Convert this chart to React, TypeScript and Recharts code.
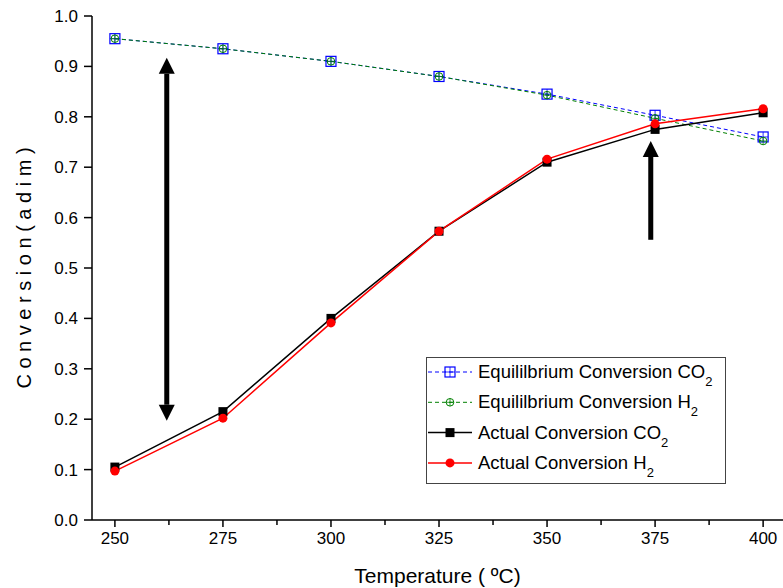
import React from "react";
import {
  LineChart,
  Line,
  XAxis,
  YAxis,
  Legend,
  ReferenceLine,
} from "recharts";

const temperatures = [250, 275, 300, 325, 350, 375, 400];
const eqCO2 = [0.955, 0.935, 0.91, 0.88, 0.845, 0.803, 0.76];
const eqH2 = [0.955, 0.935, 0.91, 0.88, 0.843, 0.797, 0.752];
const actCO2 = [0.105, 0.215, 0.4, 0.573, 0.71, 0.775, 0.808];
const actH2 = [0.097, 0.202, 0.391, 0.573, 0.716, 0.786, 0.816];

const xTicks = [250, 262.5, 275, 287.5, 300, 312.5, 325, 337.5, 350, 362.5, 375, 387.5, 400];
const yTicks = [0, 0.1, 0.2, 0.3, 0.4, 0.5, 0.6, 0.7, 0.8, 0.9, 1.0];

const data = temperatures.map((t, i) => ({
  t,
  eqCO2: eqCO2[i],
  eqH2: eqH2[i],
  actCO2: actCO2[i],
  actH2: actH2[i],
}));

const FONT = "'Liberation Sans', Arial, sans-serif";

const BlueBox = ({ cx, cy }: any) => (
  <g>
    <rect x={cx - 5} y={cy - 5} width={10} height={10} fill="none" stroke="#0000ff" strokeWidth={1.2} />
    <line x1={cx} x2={cx} y1={cy - 5} y2={cy + 5} stroke="#0000ff" strokeWidth={0.8} />
    <line x1={cx - 5} x2={cx + 5} y1={cy} y2={cy} stroke="#0000ff" strokeWidth={0.8} />
  </g>
);

const GreenCircle = ({ cx, cy }: any) => (
  <g>
    <circle cx={cx} cy={cy} r={3.8} fill="none" stroke="#008000" strokeWidth={1} />
    <line x1={cx} x2={cx} y1={cy - 3.8} y2={cy + 3.8} stroke="#008000" strokeWidth={0.8} />
    <line x1={cx - 3.8} x2={cx + 3.8} y1={cy} y2={cy} stroke="#008000" strokeWidth={0.8} />
  </g>
);

const BlackSquare = ({ cx, cy }: any) => (
  <rect x={cx - 4.5} y={cy - 4.5} width={9} height={9} fill="#000" />
);

const RedDot = ({ cx, cy }: any) => <circle cx={cx} cy={cy} r={4.5} fill="#ff0000" />;

// arrow drawn between the two segment ends; tip at end (and start if double)
const arrowShape = (double: boolean) => (p: any) => {
  const { x1, y1, x2, y2 } = p;
  const head = 16;
  const half = 8;
  const shaft = 2.5;
  const dir = y2 < y1 ? -1 : 1;
  const top = double ? y1 + dir * head : y1;
  const bot = y2 - dir * head;
  return (
    <g>
      <rect x={x1 - shaft} y={Math.min(top, bot)} width={shaft * 2} height={Math.abs(bot - top)} fill="#000" />
      <polygon points={`${x2},${y2} ${x2 - half},${bot} ${x2 + half},${bot}`} fill="#000" />
      {double && <polygon points={`${x1},${y1} ${x1 - half},${top} ${x1 + half},${top}`} fill="#000" />}
    </g>
  );
};

const XTick = ({ x, y, payload }: any) => {
  const major = payload.value % 25 === 0;
  return (
    <g>
      <line x1={x} x2={x} y1={y} y2={y + (major ? 7 : 5)} stroke="#000" strokeWidth={1.5} />
      {major && (
        <text x={x} y={y + 12} dy="0.71em" textAnchor="middle" fontSize={17} fontFamily={FONT} fill="#000">
          {payload.value}
        </text>
      )}
    </g>
  );
};

const legendRows = [
  { label: "Equililbrium Conversion CO", color: "#0000ff", dash: "4 3", Marker: BlueBox },
  { label: "Equililbrium Conversion H", color: "#008000", dash: "4 3", Marker: GreenCircle },
  { label: "Actual Conversion CO", color: "#000", dash: undefined, Marker: BlackSquare },
  { label: "Actual Conversion H", color: "#ff0000", dash: undefined, Marker: RedDot },
];

const LegendBox = () => (
  <svg width={300} height={127} style={{ display: "block" }}>
    <rect x={0.5} y={0.5} width={299} height={126} fill="#fff" stroke="#444" strokeWidth={1} />
    {legendRows.map((r, i) => {
      const base = 21 + i * 30.3;
      const ly = base - 6;
      const M = r.Marker;
      return (
        <g key={i}>
          <line x1={2} x2={46} y1={ly} y2={ly} stroke={r.color} strokeWidth={r.dash ? 1 : 1.5} strokeDasharray={r.dash} />
          <M cx={24} cy={ly} />
          <text x={52} y={base} fontSize={18.5} fontFamily={FONT} fill="#000">
            {r.label}
            <tspan fontSize={13} dy={8}>2</tspan>
          </text>
        </g>
      );
    })}
  </svg>
);

export default function App() {
  return (
    <div style={{ position: "absolute", left: 0, top: 0, width: 783, height: 588, background: "#fff" }}>
      <LineChart width={783} height={588} data={data} margin={{ top: 16, right: 0, bottom: 0, left: 0 }}>
        <XAxis
          dataKey="t"
          type="number"
          domain={[244.7, 404.6]}
          allowDataOverflow
          ticks={xTicks}
          interval={0}
          height={68}
          tickSize={0}
          tickMargin={0}
          tickLine={false}
          tick={<XTick />}
          axisLine={{ stroke: "#000", strokeWidth: 1.5 }}
          label={{
            value: "Temperature ( ºC)",
            position: "insideBottom",
            offset: 5,
            style: { fontSize: 21, fontFamily: FONT, fill: "#000" },
          }}
        />
        <XAxis
          xAxisId="top"
          orientation="top"
          dataKey="t"
          type="number"
          domain={[244.7, 404.6]}
          allowDataOverflow
          height={0}
          tick={false}
          tickLine={false}
          axisLine={{ stroke: "#000", strokeWidth: 1.5 }}
        />
        <YAxis
          type="number"
          domain={[0, 1]}
          ticks={yTicks}
          interval={0}
          width={92}
          tickSize={8}
          tickMargin={6}
          tickFormatter={(v: number) => v.toFixed(1)}
          tick={{ fontSize: 17, fontFamily: FONT, fill: "#000" }}
          tickLine={{ stroke: "#000", strokeWidth: 1.5 }}
          axisLine={{ stroke: "#000", strokeWidth: 1.5 }}
          label={{
            content: () => (
              <text
                transform="translate(31,268) rotate(-90)"
                textAnchor="middle"
                fontSize={20}
                fontFamily={FONT}
                fill="#000"
              >
                C o n v e r s i o n ( a d i m )
              </text>
            ),
          }}
        />
        <Line dataKey="eqCO2" stroke="#0000ff" strokeWidth={1} strokeDasharray="4 3" dot={<BlueBox />} isAnimationActive={false} />
        <Line dataKey="eqH2" stroke="#008000" strokeWidth={1} strokeDasharray="4 3" dot={<GreenCircle />} isAnimationActive={false} />
        <Line dataKey="actCO2" stroke="#000" strokeWidth={1.5} dot={<BlackSquare />} isAnimationActive={false} />
        <Line dataKey="actH2" stroke="#ff0000" strokeWidth={1.5} dot={<RedDot />} isAnimationActive={false} />
        <ReferenceLine
          segment={[{ x: 262, y: 0.917 }, { x: 262, y: 0.197 }]}
          shape={arrowShape(true)}
        />
        <ReferenceLine
          segment={[{ x: 374, y: 0.556 }, { x: 374, y: 0.752 }]}
          shape={arrowShape(false)}
        />
        <Legend
          layout="vertical"
          align="center"
          verticalAlign="middle"
          content={() => <LegendBox />}
          wrapperStyle={{ position: "absolute", left: 426, top: 357, width: 300, height: 127 }}
        />
      </LineChart>
    </div>
  );
}
